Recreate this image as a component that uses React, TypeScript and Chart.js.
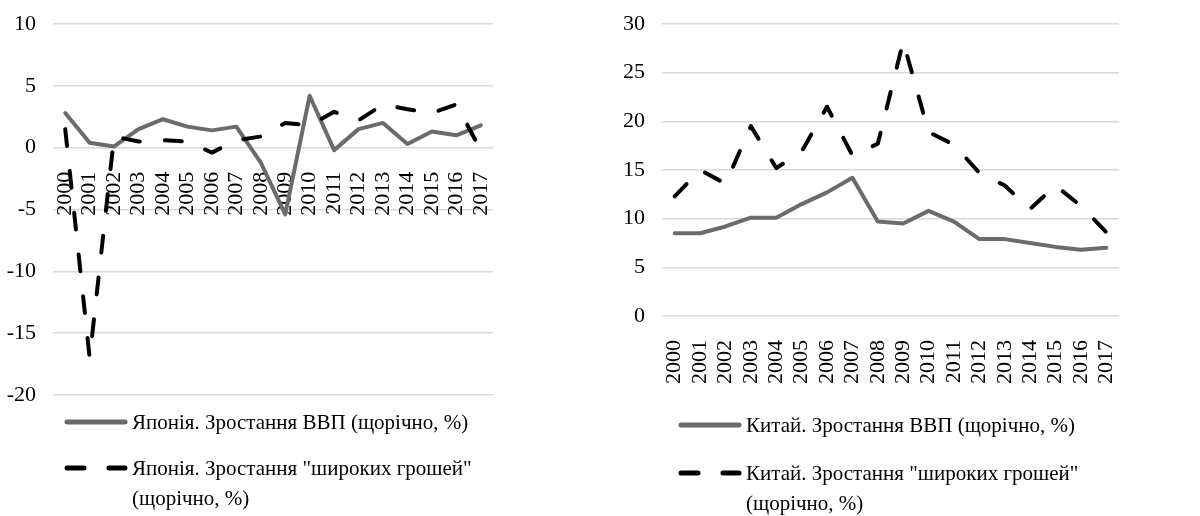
import React, { useEffect, useRef } from "react";
import { Chart, registerables } from "chart.js";

Chart.register(...registerables);

const years = ["2000","2001","2002","2003","2004","2005","2006","2007","2008","2009","2010","2011","2012","2013","2014","2015","2016","2017"];

const japanGdp = [2.8, 0.4, 0.1, 1.5, 2.3, 1.7, 1.4, 1.7, -1.2, -5.4, 4.2, -0.2, 1.5, 2.0, 0.3, 1.3, 1.0, 1.8];
const japanMoney = [1.5, -17.0, 0.9, 0.5, 0.6, 0.5, -0.4, 0.6, 0.9, 2.0, 1.8, 2.9, 2.2, 3.5, 3.1, 2.8, 3.5, -0.2];

const chinaGdp = [8.5, 8.5, 9.2, 10.1, 10.1, 11.5, 12.7, 14.2, 9.7, 9.5, 10.8, 9.7, 7.9, 7.9, 7.5, 7.1, 6.8, 7.0];
const chinaMoney = [12.3, 15.0, 13.6, 19.5, 15.2, 16.9, 21.5, 16.5, 17.7, 28.2, 18.9, 17.6, 14.7, 13.4, 11.0, 13.4, 11.3, 8.6];

const japanTicks = { min: -20, max: 10, step: 5 };
const chinaTicks = { min: 0, max: 30, step: 5 };

const japanLabels = ["Японія. Зростання ВВП (щорічно, %)", ["Японія. Зростання \"широких грошей\"", "(щорічно, %)"]];
const chinaLabels = ["Китай. Зростання ВВП (щорічно, %)", ["Китай. Зростання \"широких грошей\"", "(щорічно, %)"]];

const FONT = "'Liberation Serif', 'Times New Roman', serif";
const GDP_COLOR = "#6b6b6b";
const MONEY_COLOR = "#000000";
const DASH = [17, 25];

type Geo = { yAxisWidth: number; padRight: number; padTop: number; padBottom: number };

function makeConfig(gdp: number[], money: number[], labels: any[], ticks: { min: number; max: number; step: number }, geo: Geo): any {
  return {
    type: "line",
    data: {
      labels: years,
      datasets: [
        {
          label: String(labels[0]),
          data: gdp,
          borderColor: GDP_COLOR,
          backgroundColor: GDP_COLOR,
          borderWidth: 4,
          pointRadius: 0,
          tension: 0,
          borderJoinStyle: "round",
          borderCapStyle: "round",
          order: 1,
        },
        {
          label: (labels[1] as string[]).join(" "),
          data: money,
          borderColor: MONEY_COLOR,
          backgroundColor: MONEY_COLOR,
          borderWidth: 4,
          borderDash: DASH,
          pointRadius: 0,
          tension: 0,
          borderJoinStyle: "round",
          borderCapStyle: "round",
          order: 0,
        },
      ],
    },
    options: {
      animation: false,
      responsive: false,
      layout: { padding: { left: 0, right: geo.padRight, top: geo.padTop, bottom: geo.padBottom } },
      plugins: { legend: { display: false }, tooltip: { enabled: false } },
      scales: {
        x: {
          type: "category",
          position: { y: 0 },
          offset: true,
          grid: { display: false },
          border: { display: false },
          ticks: {
            autoSkip: false,
            minRotation: 90,
            maxRotation: 90,
            padding: 16,
            color: "#000",
            font: { family: FONT, size: 22 },
          },
          afterFit: (s: any) => {
            s.height = 0;
            s.paddingLeft = 0;
            s.paddingRight = 0;
            s.paddingTop = 0;
            s.paddingBottom = 0;
          },
        },
        y: {
          min: ticks.min,
          max: ticks.max,
          ticks: { stepSize: ticks.step, padding: 17, color: "#000", font: { family: FONT, size: 22 } },
          grid: { color: "#d9d9d9", lineWidth: 1.5, drawTicks: false },
          border: { display: false },
          afterFit: (s: any) => {
            s.width = geo.yAxisWidth;
            s.paddingTop = 0;
            s.paddingBottom = 0;
            s.paddingLeft = 0;
            s.paddingRight = 0;
          },
        },
      },
    },
  };
}

function LegendSwatch({ color, dash }: { color: string; dash?: number[] }) {
  return (
    <svg width={64} height={10} style={{ display: "block" }}>
      <line
        x1={3}
        y1={5}
        x2={61}
        y2={5}
        stroke={color}
        strokeWidth={5}
        strokeLinecap="round"
        strokeDasharray={dash ? dash.join(" ") : undefined}
      />
    </svg>
  );
}

function Panel(props: {
  left: number;
  gdp: number[];
  money: number[];
  labels: any[];
  ticks: { min: number; max: number; step: number };
  geo: Geo;
  legendX: number;
  row1Y: number;
  row2Y: number;
}) {
  const ref = useRef<HTMLCanvasElement | null>(null);
  useEffect(() => {
    if (!ref.current) return;
    const chart = new Chart(ref.current, makeConfig(props.gdp, props.money, props.labels, props.ticks, props.geo));
    return () => chart.destroy();
  }, []);
  const LH = 30;
  const textStyle: React.CSSProperties = {
    fontFamily: FONT,
    fontSize: 21,
    lineHeight: LH + "px",
    color: "#000",
    whiteSpace: "nowrap",
  };
  return (
    <div style={{ position: "absolute", left: props.left, top: 0, width: 600, height: 516 }}>
      <canvas ref={ref} width={600} height={516} style={{ position: "absolute", left: 0, top: 0 }} />
      <div style={{ position: "absolute", left: props.legendX, top: props.row1Y - LH / 2, display: "flex", alignItems: "center", height: LH }}>
        <LegendSwatch color={GDP_COLOR} />
        <span style={{ ...textStyle, marginLeft: 4 }}>{props.labels[0]}</span>
      </div>
      <div style={{ position: "absolute", left: props.legendX, top: props.row2Y - LH / 2, display: "flex", alignItems: "flex-start" }}>
        <div style={{ height: LH, display: "flex", alignItems: "center" }}>
          <LegendSwatch color={MONEY_COLOR} dash={DASH} />
        </div>
        <span style={{ ...textStyle, marginLeft: 4 }}>
          {props.labels[1][0]}
          <br />
          {props.labels[1][1]}
        </span>
      </div>
    </div>
  );
}

export default function App() {
  return (
    <div style={{ position: "fixed", left: 0, top: 0, width: 1200, height: 516, background: "#fff", overflow: "hidden" }}>
      <Panel
        left={0}
        gdp={japanGdp}
        money={japanMoney}
        labels={japanLabels}
        ticks={japanTicks}
        geo={{ yAxisWidth: 53, padRight: 107, padTop: 24, padBottom: 516 - 395 }}
        legendX={64}
        row1Y={422}
        row2Y={468}
      />
      <Panel
        left={600}
        gdp={chinaGdp}
        money={chinaMoney}
        labels={chinaLabels}
        ticks={chinaTicks}
        geo={{ yAxisWidth: 62, padRight: 81, padTop: 24, padBottom: 516 - 316 }}
        legendX={78}
        row1Y={425}
        row2Y={473}
      />
    </div>
  );
}
